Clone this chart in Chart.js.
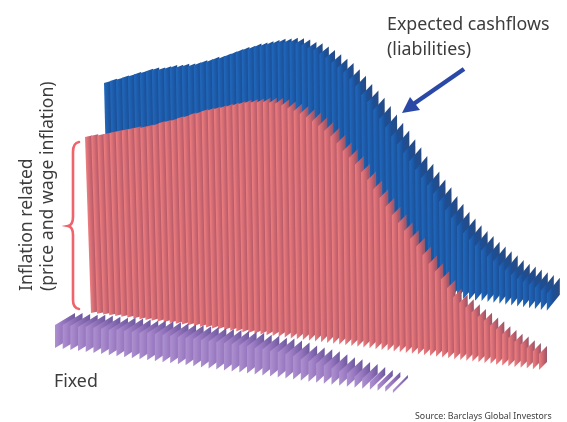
<!DOCTYPE html>
<html>
<head>
<meta charset="utf-8">
<title>Expected cashflows</title>
<script src="https://cdn.jsdelivr.net/npm/chart.js@4"></script>
<style>
  html, body { margin: 0; padding: 0; background: #fff; }
  #chart { display: block; }
</style>
</head>
<body>
<canvas id="chart" width="567" height="422"></canvas>
<script>
// heights of each yearly cashflow slat, front edge
const cashflowHeights = [
  162, 165, 167, 170, 172, 175, 177, 180, 182, 183, 185, 187, 188, 190, 191,
  193, 196, 198, 201, 203, 206, 209, 212, 215, 217, 220, 222, 224, 226, 228,
  229, 230, 230, 229, 227, 226, 223, 220, 216, 212, 208, 202, 196, 188, 182,
  175, 167, 159, 151, 144, 136, 129, 121, 114, 107, 100, 93, 85, 78, 71,
  65, 59, 54, 50, 45, 41, 37, 34, 30, 27, 25, 23, 21, 19, 17
];
const inflationHeights = [
  176, 178, 179, 181, 183, 185, 187, 189, 191, 192, 194, 196, 199, 201, 203,
  206, 208, 211, 213, 216, 218, 220, 222, 224, 226, 228, 230, 231, 232, 233,
  233, 233, 232, 230, 228, 226, 223, 220, 216, 212, 207, 201, 194, 188, 182,
  175, 168, 160, 152, 144, 136, 129, 122, 115, 108, 100, 92, 85, 78, 70,
  62, 57, 53, 49, 45, 42, 38, 35, 31, 28, 25, 23, 20, 18, 16
];
const fixedHeights = [
  23, 24, 24, 24, 25, 25, 25, 25, 26, 26, 26, 26, 27, 27, 27,
  27, 27, 27, 27, 27, 27, 27, 27, 27, 27, 27, 26, 26, 25, 25,
  24, 23, 21, 20, 19, 18, 16, 14, 13, 11, 10, 8, 6, 5, 3
];

// oblique projection of each series; depth is [position along series, dx, dy]
const cashflowView = {
  x0: 108, stepX: 5.93, y0: 245, stepY: 0.89, lean: -4,
  depth: [[0, 7, 2], [0.4, 8, 4], [0.65, 12, 14], [1, 13, 16]],
  colors: ['#2069bd', '#1b4f98', '#2a4a80']
};
const inflationView = {
  x0: 91, stepX: 6.054, y0: 313, stepY: 0.769, lean: -6,
  depth: [[0, 7, 1.5], [0.35, 7, 3], [0.5, 9, 9], [1, 8, 8]],
  colors: ['#ee7e80', '#b85a68', '#8f5a70']
};
const fixedView = {
  x0: 55, stepX: 7.68, y0: 348, stepY: 1.02, lean: 0,
  depth: [[0, 20, 12], [1, 15, 15]],
  colors: ['#ae91d0', '#9676bf', '#6f5a9e']
};

function depthAt(knots, t) {
  for (let k = 1; k < knots.length; k++) {
    if (t <= knots[k][0]) {
      const a = knots[k - 1], b = knots[k];
      const f = (t - a[0]) / (b[0] - a[0]);
      return [a[1] + (b[1] - a[1]) * f, a[2] + (b[2] - a[2]) * f];
    }
  }
  return knots[knots.length - 1].slice(1);
}

// one closed slat per value, painted back to front
function slatDatasets(heights, view, startOrder) {
  const last = heights.length - 1;
  return heights.map((height, i) => {
    const t = i / last;
    const bottomX = view.x0 + view.stepX * i;
    const bottomY = view.y0 + view.stepY * i;
    const topX = bottomX + view.lean * (1 - t);
    const [dx, dy] = depthAt(view.depth, t);
    const corner = { x: bottomX, y: bottomY };
    const slant = { x: topX - bottomX, y: -height };
    return {
      data: [
        corner,
        { x: topX, y: bottomY - height },
        { x: topX + dx, y: bottomY - height - dy },
        { x: bottomX + dx, y: bottomY - dy }
      ],
      showLine: true,
      fill: 'shape',
      tension: 0,
      borderWidth: 0,
      pointRadius: 0,
      order: -(startOrder + i),
      clip: false,
      backgroundColor: (ctx) => slatGradient(ctx.chart, corner, slant, dx, view)
    };
  });
}

// shades across the slat, so the colour bands run along its slanted edge
function slatGradient(chart, corner, slant, dx, view) {
  const colors = view.colors;
  if (!chart.chartArea) return colors[0];
  const len = Math.hypot(slant.x, slant.y);
  const nx = -slant.y / len;
  const ny = slant.x / len;
  const across = dx * nx;
  const x0 = chart.scales.x.getPixelForValue(corner.x);
  const y0 = chart.scales.y.getPixelForValue(corner.y);
  const g = chart.ctx.createLinearGradient(x0, y0, x0 + nx * across, y0 + ny * across);
  g.addColorStop(0, colors[0]);
  g.addColorStop(Math.min(0.95, view.stepX / dx), colors[1]);
  g.addColorStop(1, colors[2]);
  return g;
}

const datasets = [
  ...slatDatasets(cashflowHeights, cashflowView, 0),
  ...slatDatasets(inflationHeights, inflationView, 100),
  ...slatDatasets(fixedHeights, fixedView, 200)
];

const LABEL_FONT = '"Noto Sans", sans-serif';

// labels, brace and arrow on top of the slats
const annotations = {
  id: 'annotations',
  afterDraw(chart) {
    const ctx = chart.ctx;
    ctx.save();
    ctx.fillStyle = '#3c3c3c';
    ctx.textBaseline = 'alphabetic';
    ctx.font = '17.8px ' + LABEL_FONT;
    ctx.fillText('Expected cashflows', 387, 30);
    ctx.fillText('(liabilities)', 387, 55);
    ctx.fillText('Fixed', 54, 387);
    ctx.font = '8.8px ' + LABEL_FONT;
    ctx.fillText('Source: Barclays Global Investors', 415, 419);

    ctx.save();
    ctx.translate(32, 291);
    ctx.rotate(-Math.PI / 2);
    ctx.font = '17.6px ' + LABEL_FONT;
    ctx.fillText('Inflation related', 0, 0);
    ctx.fillText('(price and wage inflation)', 0, 21);
    ctx.restore();

    // brace
    ctx.strokeStyle = '#f0626c';
    ctx.lineWidth = 2.6;
    ctx.lineCap = 'round';
    ctx.beginPath();
    ctx.moveTo(79, 142);
    ctx.quadraticCurveTo(73, 143, 73, 152);
    ctx.lineTo(73, 217);
    ctx.quadraticCurveTo(73, 225, 68, 226);
    ctx.quadraticCurveTo(73, 227, 73, 235);
    ctx.lineTo(73, 300);
    ctx.quadraticCurveTo(73, 308, 79, 309);
    ctx.stroke();

    // arrow towards the cashflow slats
    ctx.strokeStyle = '#2a48a6';
    ctx.fillStyle = '#2a48a6';
    ctx.lineWidth = 4.5;
    ctx.lineCap = 'butt';
    ctx.beginPath();
    ctx.moveTo(464, 69);
    ctx.lineTo(412, 105);
    ctx.stroke();
    ctx.beginPath();
    ctx.moveTo(402, 113);
    ctx.lineTo(410, 97);
    ctx.lineTo(420, 110);
    ctx.closePath();
    ctx.fill();
    ctx.restore();
  }
};

new Chart(document.getElementById('chart'), {
  type: 'scatter',
  data: { datasets },
  plugins: [annotations],
  options: {
    responsive: false,
    animation: false,
    events: [],
    layout: { padding: 0 },
    plugins: { legend: { display: false }, tooltip: { enabled: false } },
    scales: {
      x: { type: 'linear', display: false, min: 0, max: 567 },
      y: { type: 'linear', display: false, min: 0, max: 422, reverse: true }
    }
  }
});
</script>
</body>
</html>
